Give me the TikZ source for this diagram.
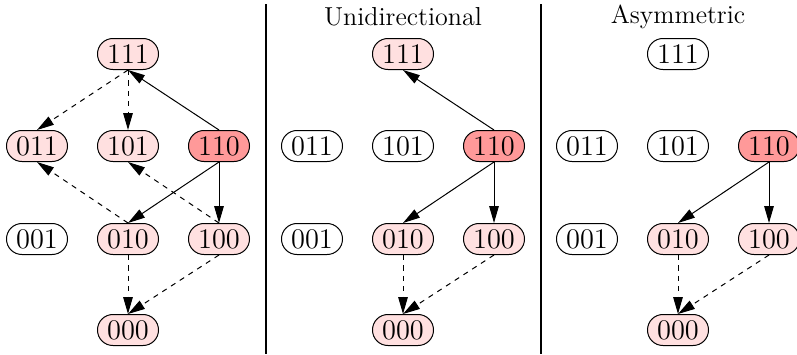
\documentclass[tikz,border=0pt]{standalone}
\usetikzlibrary{arrows.meta}
\definecolor{lightpink}{RGB}{255,224,224}
\definecolor{darkpink}{RGB}{255,153,153}
\tikzset{
  state/.style={draw=black, line width=0.5pt, rectangle, rounded corners=7.7pt,
    minimum width=30.5pt, minimum height=15.5pt, inner xsep=2pt, inner ysep=0pt,
    font=\fontsize{14.2}{16}\selectfont},
  off/.style={state, fill=white},
  lit/.style={state, fill=lightpink},
  hot/.style={state, fill=darkpink},
  edge/.style={line width=0.5pt, -{Triangle[length=8.5pt,width=4.8pt]}},
  dedge/.style={edge, dash pattern=on 2.6pt off 2.6pt},
  divider/.style={line width=1pt},
  title/.style={font=\fontsize{13}{15}\selectfont}
}
\begin{document}
\begin{tikzpicture}[x=0.5pt, y=-0.5pt]
\clip (0,0) rectangle (797,354);
\useasboundingbox (0,0) rectangle (797,354);

% separators between the three panels
\coordinate (d1t) at (265.5,4);  \coordinate (d1b) at (265.5,354);
\coordinate (d2t) at (540.5,4);  \coordinate (d2b) at (540.5,354);
\draw[divider] (d1t) -- (d1b);
\draw[divider] (d2t) -- (d2b);

% panel titles
\node[title] (t2) at (403,17) {Unidirectional};
\node[title] (t3) at (678,17) {Asymmetric};

% ---------- panel 1 ----------
\node[lit] (a111) at (128,54)  {111};
\node[lit] (a011) at (37,146)  {011};
\node[lit] (a101) at (128,146) {101};
\node[hot] (a110) at (219,146) {110};
\node[off] (a001) at (37,239)  {001};
\node[lit] (a010) at (128,239) {010};
\node[lit] (a100) at (219,239) {100};
\node[lit] (a000) at (128,330) {000};

\draw[edge]  (a110.north) -- (a111.south);
\draw[dedge] (a111.south) -- (a011.north);
\draw[dedge] (a111.south) -- (a101.north);
\draw[edge]  (a110.south) -- (a010.north);
\draw[edge]  (a110.south) -- (a100.north);
\draw[dedge] (a010.north) -- (a011.south);
\draw[dedge] (a100.north) -- (a101.south);
\draw[dedge] (a010.south) -- (a000.north);
\draw[dedge] (a100.south) -- (a000.north);

% ---------- panel 2 ----------
\node[lit] (b111) at (403,54)  {111};
\node[off] (b011) at (312,146) {011};
\node[off] (b101) at (403,146) {101};
\node[hot] (b110) at (494,146) {110};
\node[off] (b001) at (312,239) {001};
\node[lit] (b010) at (403,239) {010};
\node[lit] (b100) at (494,239) {100};
\node[lit] (b000) at (403,330) {000};

\draw[edge]  (b110.north) -- (b111.south);
\draw[edge]  (b110.south) -- (b010.north);
\draw[edge]  (b110.south) -- (b100.north);
\draw[dedge] (b010.south) -- (b000.north);
\draw[dedge] (b100.south) -- (b000.north);

% ---------- panel 3 ----------
\node[off] (c111) at (678,54)  {111};
\node[off] (c011) at (587,146) {011};
\node[off] (c101) at (678,146) {101};
\node[hot] (c110) at (769,146) {110};
\node[off] (c001) at (587,239) {001};
\node[lit] (c010) at (678,239) {010};
\node[lit] (c100) at (769,239) {100};
\node[lit] (c000) at (678,330) {000};

\draw[edge]  (c110.south) -- (c010.north);
\draw[edge]  (c110.south) -- (c100.north);
\draw[dedge] (c010.south) -- (c000.north);
\draw[dedge] (c100.south) -- (c000.north);
\end{tikzpicture}
\end{document}
